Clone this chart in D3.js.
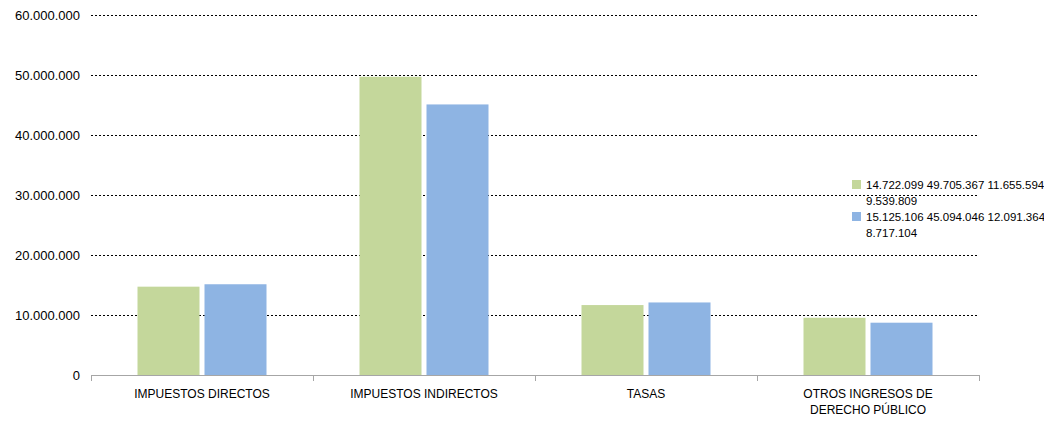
<!DOCTYPE html>
<html><head><meta charset="utf-8">
<script src="https://cdn.jsdelivr.net/npm/d3@7"></script>
<style>body{margin:0;background:#fff}svg{display:block}text{font-family:"Liberation Sans",Arial,sans-serif;fill:#000}</style>
</head><body><svg id="c" width="1044" height="422"></svg>
<script>
const categories = ["IMPUESTOS DIRECTOS","IMPUESTOS INDIRECTOS","TASAS","OTROS INGRESOS DE DERECHO PÚBLICO"];
const series1 = [14722099, 49705367, 11655594, 9539809];
const series2 = [15125106, 45094046, 12091364, 8717104];
const seriesNames = ["14.722.099 49.705.367 11.655.594 9.539.809","15.125.106 45.094.046 12.091.364 8.717.104"];
const yTicks = [0,10000000,20000000,30000000,40000000,50000000,60000000];
const colors = ["#c4d79b","#8eb4e3"];

const svg = d3.select("#c");
const m = {l:91, r:979, t:15, b:375};
const x = d3.scaleBand().domain(categories).range([m.l,m.r]).paddingInner(0).paddingOuter(0);
const y = d3.scaleLinear().domain([0,60000000]).range([m.b,m.t]);
const fmt = v => d3.format(",")(v).replace(/,/g,".");

// gridlines
svg.append("g").selectAll("line").data(yTicks.filter(d=>d>0)).join("line")
  .attr("x1",m.l).attr("x2",m.r).attr("y1",d=>y(d)+0.5).attr("y2",d=>y(d)+0.5)
  .attr("stroke","#000").attr("stroke-width",1).attr("stroke-dasharray","2,2");

// y labels
svg.append("g").selectAll("text").data(yTicks).join("text")
  .attr("x",80).attr("y",d=>y(d)+4.5).attr("text-anchor","end").attr("font-size",13).text(fmt);

// bars
const bw = 62, gap = 5;
const sub = d3.scaleBand().domain([0,1]).range([0, 2*bw+gap]).paddingInner(gap/(bw+gap));
const data = categories.map((c,i)=>({c, v:[series1[i],series2[i]]}));
const g = svg.append("g");
data.forEach(d=>{
  const x0 = x(d.c) + (x.bandwidth() - (2*bw+gap))/2;
  d.v.forEach((v,j)=>{
    g.append("rect").attr("x",x0+sub(j)).attr("width",sub.bandwidth())
      .attr("y",y(v)).attr("height",y(0)-y(v)).attr("fill",colors[j]);
  });
});

// x axis
const ax = svg.append("g");
ax.append("line").attr("x1",m.l).attr("x2",m.r).attr("y1",m.b+0.5).attr("y2",m.b+0.5).attr("stroke","#a6a6a6");
const edges = categories.map(c=>x(c)).concat([m.r]);
ax.selectAll("line.t").data(edges).join("line").attr("class","t")
  .attr("x1",d=>d+0.5).attr("x2",d=>d+0.5).attr("y1",m.b).attr("y2",m.b+6).attr("stroke","#a6a6a6");

// category labels
const wraps = {"OTROS INGRESOS DE DERECHO PÚBLICO":["OTROS INGRESOS DE","DERECHO PÚBLICO"]};
categories.forEach(c=>{
  const lines = wraps[c] || [c];
  const t = svg.append("text").attr("text-anchor","middle").attr("font-size",12);
  lines.forEach((l,i)=>t.append("tspan").attr("x",x(c)+x.bandwidth()/2).attr("y",398+i*16).text(l));
});

// legend
const leg = svg.append("g");
const legLines = [["14.722.099 49.705.367 11.655.594","9.539.809"],["15.125.106 45.094.046 12.091.364","8.717.104"]];
legLines.forEach((ls,i)=>{
  const y0 = 180 + i*32;
  leg.append("rect").attr("x",852).attr("y",y0).attr("width",9).attr("height",9).attr("fill",colors[i]);
  const t = leg.append("text").attr("font-size",11.5);
  ls.forEach((l,k)=>t.append("tspan").attr("x",866).attr("y",y0+9+k*16).text(l));
});
</script></body></html>
